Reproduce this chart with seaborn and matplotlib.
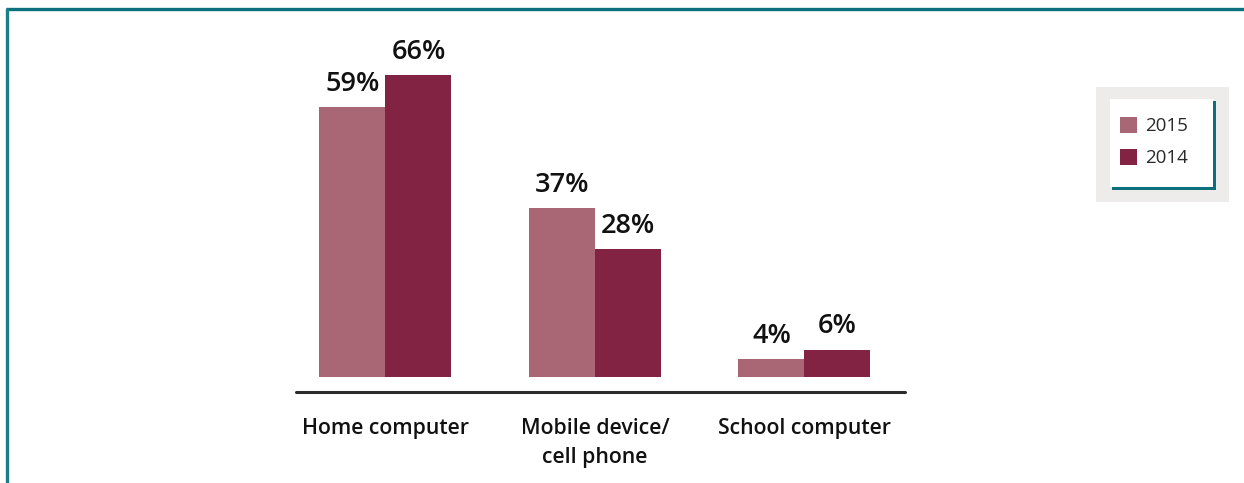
import matplotlib
matplotlib.use("Agg")
import matplotlib.pyplot as plt
from matplotlib.patches import Rectangle
from matplotlib.lines import Line2D
import seaborn as sns
import pandas as pd

# Where students go online (share of respondents, %)
categories = ["Home computer", "Mobile device/\ncell phone", "School computer"]
years = ["2015", "2014"]
values_2015 = [59, 37, 4]
values_2014 = [66, 28, 6]
palette = {"2015": "#a96675", "2014": "#822344"}

df = pd.DataFrame({
    "category": categories * 2,
    "year": ["2015"] * len(categories) + ["2014"] * len(categories),
    "share": values_2015 + values_2014,
})

sns.set_theme(style="white")
plt.rcParams["font.family"] = ["Open Sans", "DejaVu Sans"]

W, H = 1244, 483
fig = plt.figure(figsize=(W / 100, H / 100), dpi=100)

def fx(px):
    return px / W

def fy(py):
    return 1 - py / H

ax = fig.add_axes([fx(296), fy(392), fx(905) - fx(296), fy(30) - fy(392)])

sns.barplot(data=df, x="category", y="share", hue="year", hue_order=years,
            order=categories, palette=palette, width=0.63, gap=0,
            saturation=1, legend=False, linewidth=0, edgecolor="none", ax=ax)

ax.set_xlim(-0.427, 2.48)
ax.set_ylim(-3.28, 75.8)

# value labels above each bar
for container in ax.containers:
    ax.bar_label(container, labels=[f"{v:.0f}%" for v in container.datavalues],
                 padding=6.5, fontsize=19.5, fontweight="semibold", color="#111111")

# baseline rule sitting below the bars
ax.axhline(-3.28, color="#2b2b2b", lw=2.2, clip_on=False)

for s in ax.spines.values():
    s.set_visible(False)
ax.set_yticks([])
ax.set_xlabel("")
ax.set_ylabel("")
ax.tick_params(axis="x", length=0, pad=19)
for lbl in ax.get_xticklabels():
    lbl.set_fontsize(15.3)
    lbl.set_fontweight("semibold")
    lbl.set_color("#111111")
    lbl.set_linespacing(1.5)
    lbl.set_verticalalignment("top")

# outer frame lines
teal = "#0b6f7c"
fig.add_artist(Line2D([fx(6), fx(1244)], [fy(8.5), fy(8.5)], color=teal, lw=2.4,
                      solid_capstyle="butt"))
fig.add_artist(Line2D([fx(7), fx(7)], [fy(7.5), fy(483)], color="#1a7d88", lw=2.4,
                      solid_capstyle="butt"))

# legend box
def rect(x0, y0, x1, y1, color):
    fig.add_artist(Rectangle((fx(x0), fy(y1)), fx(x1) - fx(x0), fy(y0) - fy(y1),
                             facecolor=color, edgecolor="none",
                             transform=fig.transFigure))

rect(1096, 87, 1229, 202, "#edecea")
rect(1112, 101, 1216, 190, teal)
rect(1110, 99, 1213, 187, "white")
for i, yr in enumerate(years):
    top = 117 + i * 32
    rect(1120, top, 1137, top + 16, palette[yr])
    fig.text(fx(1145), fy(top + 9), yr, fontsize=13.5, color="#2a2a2a",
             va="center", ha="left", fontweight="normal")

fig.savefig("out.png", dpi=100, facecolor="white")
